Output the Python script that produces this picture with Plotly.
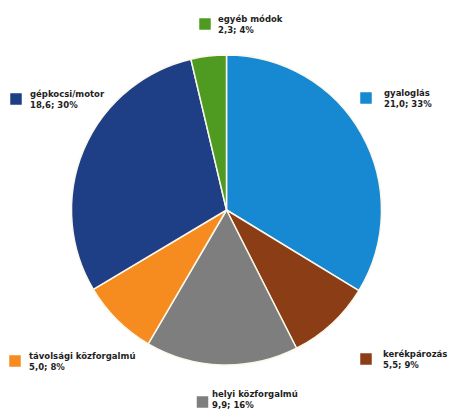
import plotly.graph_objects as go

labels = ["gyaloglás", "kerékpározás", "helyi közforgalmú", "távolsági közforgalmú", "gépkocsi/motor", "egyéb módok"]
values = [21.0, 5.5, 9.9, 5.0, 18.6, 2.3]
percents = [33, 9, 16, 8, 30, 4]
colors = ["#1689d2", "#8b3e15", "#7e7e7e", "#f68b20", "#1e3f85", "#4f9b22"]

W, H = 449, 412
# label layout in pixels: (square centre x, square centre y, text left x, text centre y)
label_pos = {
    "gyaloglás": (366, 98, 382, 98),
    "kerékpározás": (366, 359, 381, 359),
    "helyi közforgalmú": (202.5, 402, 210, 399),
    "távolsági közforgalmú": (15, 361, 27, 361),
    "gépkocsi/motor": (16, 99, 28, 99),
    "egyéb módok": (205, 24, 216, 25),
}

cx, cy, r = 226.5, 210, 155

fig = go.Figure(go.Pie(
    labels=labels,
    values=values,
    marker=dict(colors=colors, line=dict(color="#fbf7ea", width=1.5)),
    sort=False,
    direction="clockwise",
    rotation=0,
    textinfo="none",
    hoverinfo="none",
    showlegend=False,
    domain=dict(x=[(cx - r) / W, (cx + r) / W], y=[(H - cy - r) / H, (H - cy + r) / H]),
))

shapes = []
annotations = []
sq = 11.5
for lab, val, pct, col in zip(labels, values, percents, colors):
    px, py, tx, ty = label_pos[lab]
    shapes.append(dict(
        type="rect", xref="paper", yref="paper",
        x0=(px - sq / 2) / W, x1=(px + sq / 2) / W,
        y0=1 - (py + sq / 2) / H, y1=1 - (py - sq / 2) / H,
        fillcolor=col, line=dict(width=0),
    ))
    valtxt = f"{val:.1f}".replace(".", ",")
    annotations.append(dict(
        xref="paper", yref="paper",
        x=tx / W, y=1 - ty / H,
        xanchor="left", yanchor="middle", align="left",
        text=f"<b>{lab}<br>{valtxt}; {pct}%</b>",
        showarrow=False,
        font=dict(family="DejaVu Sans", size=8.5, color="#1e1e1e"),
    ))

fig.update_layout(
    width=W, height=H,
    margin=dict(l=0, r=0, t=0, b=0),
    paper_bgcolor="white",
    plot_bgcolor="white",
    shapes=shapes,
    annotations=annotations,
)

fig.write_html(
    "out.html",
    config={"displayModeBar": False},
    post_script="document.body.style.margin='0';document.body.style.overflow='hidden';",
)
